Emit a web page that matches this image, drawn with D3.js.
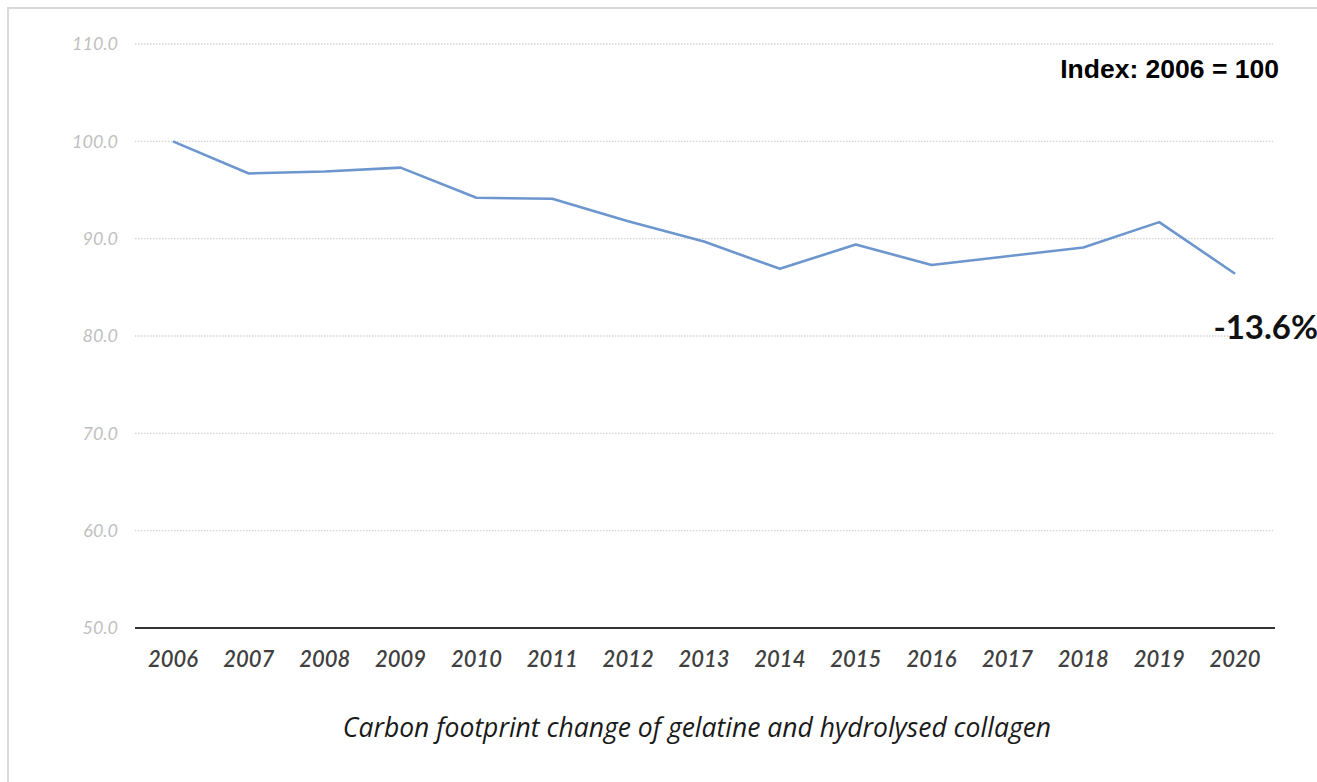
<!DOCTYPE html>
<html>
<head>
<meta charset="utf-8">
<script src="https://cdn.jsdelivr.net/npm/d3@7"></script>
<style>
  html, body { margin: 0; padding: 0; background: #fff; }
  svg { display: block; }
</style>
</head>
<body>
<svg id="chart" width="1317" height="782"></svg>
<script>
// Carbon footprint index, 2006 = 100
const years = ["2006","2007","2008","2009","2010","2011","2012","2013","2014","2015","2016","2017","2018","2019","2020"];
const indexValues = [100.0, 96.7, 96.9, 97.3, 94.2, 94.1, 91.8, 89.7, 86.9, 89.4, 87.3, 88.2, 89.1, 91.7, 86.4];
const yTicks = [50, 60, 70, 80, 90, 100, 110];
const changeLabel = "-13.6%";
const baseLabel = "Index: 2006 = 100";
const caption = "Carbon footprint change of gelatine and hydrolysed collagen";

const svg = d3.select("#chart");
const W = 1317, H = 782;
const plot = { left: 135, right: 1273, top: 44, bottom: 628 };

// outer frame
svg.append("rect")
  .attr("x", 8).attr("y", 8)
  .attr("width", W + 20).attr("height", H + 20)
  .attr("fill", "#fff")
  .attr("stroke", "#d9d9d9")
  .attr("stroke-width", 2);

const x = d3.scaleBand().domain(years).range([plot.left, plot.right]);
const y = d3.scaleLinear().domain([50, 110]).range([plot.bottom, plot.top]);

// horizontal dotted gridlines
svg.append("g")
  .selectAll("line")
  .data(yTicks.filter(t => t > 50))
  .join("line")
  .attr("x1", plot.left).attr("x2", plot.right)
  .attr("y1", d => y(d)).attr("y2", d => y(d))
  .attr("stroke", "#d4d4d4")
  .attr("stroke-width", 1.3)
  .attr("stroke-dasharray", "1.5,1.5");

// y axis labels
const yAxis = d3.axisLeft(y).tickValues(yTicks).tickFormat(d3.format(".1f")).tickSize(0).tickPadding(17);
const gy = svg.append("g").attr("transform", `translate(${plot.left},0)`).call(yAxis);
gy.select(".domain").remove();
gy.selectAll("text")
  .attr("fill", "#bfbfbf")
  .style("font-family", "Lato, 'Liberation Sans', sans-serif")
  .style("font-style", "italic")
  .style("font-size", "18px");

// x axis baseline and year labels
const xAxis = d3.axisBottom(x).tickSize(0).tickPadding(23);
const gx = svg.append("g").attr("transform", `translate(0,${plot.bottom})`).call(xAxis);
gx.select(".domain")
  .attr("stroke", "#333")
  .attr("stroke-width", 2.2)
  .attr("d", `M${plot.left},0H${plot.right + 2}`);
gx.selectAll("text")
  .attr("fill", "#404040")
  .style("font-family", "Lato, 'Liberation Sans', sans-serif")
  .style("font-style", "italic")
  .style("font-weight", "600")
  .style("font-size", "22px");

// index line
const line = d3.line()
  .x((d, i) => x(years[i]) + x.bandwidth() / 2)
  .y(d => y(d));
svg.append("path")
  .datum(indexValues)
  .attr("d", line)
  .attr("fill", "none")
  .attr("stroke", "#6c96cd")
  .attr("stroke-width", 2.6)
  .attr("stroke-linejoin", "round");

// annotations
svg.append("text")
  .attr("x", 1279).attr("y", 78)
  .attr("text-anchor", "end")
  .style("font-family", "'Liberation Sans', Arial, sans-serif")
  .style("font-weight", "bold")
  .style("font-size", "26.5px")
  .attr("fill", "#000")
  .text(baseLabel);

svg.append("text")
  .attr("x", 1318).attr("y", 339)
  .attr("text-anchor", "end")
  .style("font-family", "Lato, 'Liberation Sans', sans-serif")
  .style("font-weight", "bold")
  .style("font-size", "33px")
  .attr("fill", "#111")
  .text(changeLabel);

// caption
svg.append("text")
  .attr("x", 697).attr("y", 737)
  .attr("text-anchor", "middle")
  .style("font-family", "'Open Sans', 'Liberation Sans', sans-serif")
  .style("font-style", "italic")
  .style("font-size", "26.5px")
  .attr("fill", "#1a1a1a")
  .text(caption);
</script>
</body>
</html>
